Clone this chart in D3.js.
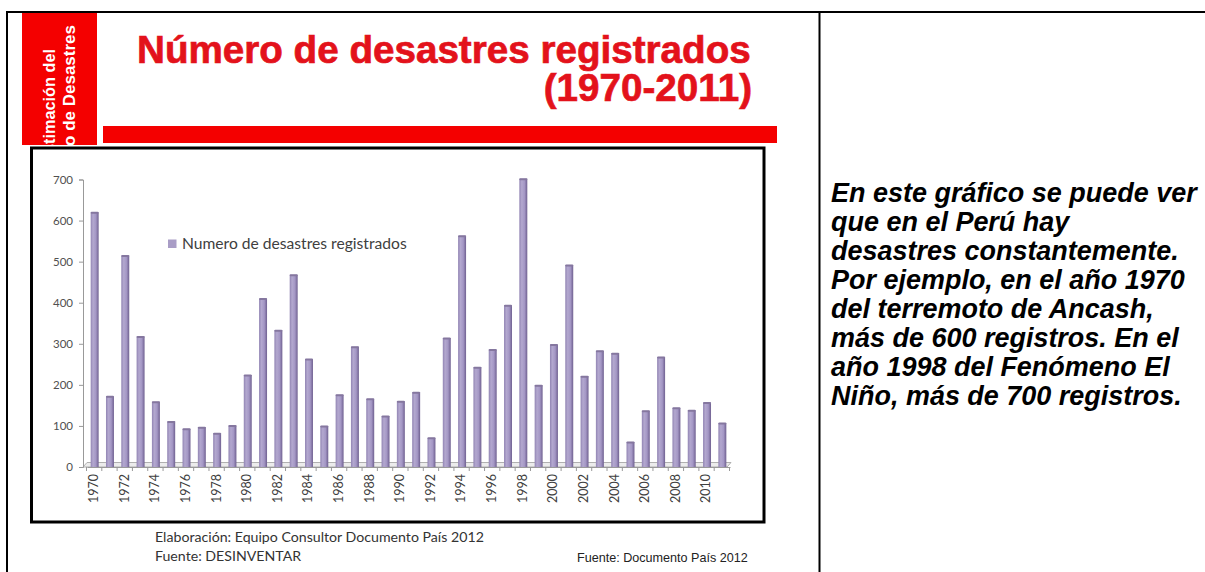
<!DOCTYPE html>
<html>
<head>
<meta charset="utf-8">
<script src="https://cdn.jsdelivr.net/npm/d3@7"></script>
<style>
  html, body { margin: 0; padding: 0; background: #fff; }
  svg { display: block; }
</style>
</head>
<body>
<svg id="chart" width="1205" height="572"></svg>
<script>
// Registered disasters in Peru per year, 1970–2011
const years = [1970,1971,1972,1973,1974,1975,1976,1977,1978,1979,
               1980,1981,1982,1983,1984,1985,1986,1987,1988,1989,
               1990,1991,1992,1993,1994,1995,1996,1997,1998,1999,
               2000,2001,2002,2003,2004,2005,2006,2007,2008,2009,
               2010,2011];
const disasters = [620,172,515,318,159,111,93,97,82,101,
                   224,410,333,468,263,100,176,293,166,124,
                   160,182,71,314,563,243,286,394,702,199,
                   298,492,221,283,277,61,137,268,144,138,
                   157,107];
const yTicks = [0,100,200,300,400,500,600,700];
const yearLabels = [1970,1972,1974,1976,1978,1980,1982,1984,1986,1988,1990,
                    1992,1994,1996,1998,2000,2002,2004,2006,2008,2010];

const titleLines = ["Número de desastres registrados", "(1970-2011)"];
const sideLines = ["Estimación del", "Riesgo de Desastres"];
const legendLabel = "Numero de desastres registrados";
const creditLines = ["Elaboración: Equipo Consultor Documento País 2012", "Fuente: DESINVENTAR"];
const sourceNote = "Fuente: Documento País 2012";
const noteLines = [
  "En este gráfico se puede ver",
  "que en el Perú hay",
  "desastres constantemente.",
  "Por ejemplo, en el año 1970",
  "del terremoto de Ancash,",
  "más de 600 registros. En el",
  "año 1998 del Fenómeno El",
  "Niño, más de 700 registros."
];

const svg = d3.select("#chart");
const RED = "#f40000";

// scale a text element's font so its width hits a target
function fitWidth(sel, target) {
  const node = sel.node();
  const fs = parseFloat(sel.attr("font-size"));
  const w = node.getComputedTextLength();
  const nfs = fs * target / w;
  sel.attr("font-size", nfs);
  return nfs;
}

// ---- page frame ----
const frame = svg.append("g").attr("stroke", "#000").attr("stroke-width", 2);
frame.append("line").attr("x1", 6).attr("x2", 1205).attr("y1", 12).attr("y2", 12);
frame.append("line").attr("x1", 7).attr("x2", 7).attr("y1", 12).attr("y2", 572);
frame.append("line").attr("x1", 819.5).attr("x2", 819.5).attr("y1", 12).attr("y2", 572);

// ---- red side block with vertical caption ----
const defs = svg.append("defs");
defs.append("clipPath").attr("id", "sideClip")
  .append("rect").attr("x", 22).attr("y", 13).attr("width", 75).attr("height", 132);
svg.append("rect").attr("x", 22).attr("y", 13).attr("width", 75).attr("height", 132).attr("fill", RED);
const side = svg.append("g").attr("clip-path", "url(#sideClip)");
const sidePos = [[54.5, 49], [75, 25]];
const sideSize = [16.3, 17];
sideLines.forEach((t, i) => {
  side.append("text")
    .attr("transform", `translate(${sidePos[i][0]},${sidePos[i][1]}) rotate(-90)`)
    .attr("text-anchor", "end")
    .attr("font-family", "'Liberation Sans', Arial, sans-serif")
    .attr("font-weight", "bold")
    .attr("font-size", sideSize[i])
    .attr("fill", "#fff")
    .text(t);
});

// ---- title ----
const t1 = svg.append("text")
  .attr("x", 137).attr("y", 62.5)
  .attr("font-family", "'Liberation Sans', Arial, sans-serif")
  .attr("font-weight", "bold").attr("font-size", 32)
  .attr("fill", "#e3121b").attr("stroke", "#e3121b").attr("stroke-width", 0.7)
  .text(titleLines[0]);
const tfs = fitWidth(t1, 614);
svg.append("text")
  .attr("x", 752).attr("y", 100.5).attr("text-anchor", "end")
  .attr("font-family", "'Liberation Sans', Arial, sans-serif")
  .attr("font-weight", "bold").attr("font-size", tfs)
  .attr("fill", "#e3121b").attr("stroke", "#e3121b").attr("stroke-width", 0.7)
  .text(titleLines[1]);
svg.append("rect").attr("x", 103).attr("y", 126).attr("width", 674).attr("height", 17).attr("fill", RED);

// ---- chart box ----
svg.append("rect").attr("x", 31.5).attr("y", 148).attr("width", 732.5).attr("height", 374)
  .attr("fill", "#fff").attr("stroke", "#000").attr("stroke-width", 3);

const x = d3.scaleBand().domain(years).range([87, 730]).paddingInner(0.48).paddingOuter(0.24);
const y = d3.scaleLinear().domain([0, 700]).range([467, 179.5]);

// bar shading
const grad = defs.append("linearGradient").attr("id", "barGrad")
  .attr("x1", "0%").attr("x2", "100%").attr("y1", "0%").attr("y2", "0%");
grad.append("stop").attr("offset", "0%").attr("stop-color", "#9184b3");
grad.append("stop").attr("offset", "30%").attr("stop-color", "#b3a8cf");
grad.append("stop").attr("offset", "65%").attr("stop-color", "#a497c5");
grad.append("stop").attr("offset", "100%").attr("stop-color", "#6f6090");

// floor of the 3D plot
const x0 = 83, x1 = 727;
svg.append("polygon")
  .attr("points", `${x0},${y(0)} ${x1},${y(0)} ${x1 + 4},${y(0) - 4.5} ${x0 + 4},${y(0) - 4.5}`)
  .attr("fill", "#ececec").attr("stroke", "#b0b0b0").attr("stroke-width", 1);

// y axis
const yAxis = d3.axisLeft(y).tickValues(yTicks).tickSize(4).tickPadding(6);
const gy = svg.append("g").attr("transform", `translate(83,0)`).call(yAxis);
gy.select(".domain").attr("stroke", "#999");
gy.selectAll(".tick line").attr("stroke", "#999");
gy.selectAll(".tick text")
  .attr("font-family", "Lato, 'Open Sans', sans-serif")
  .attr("font-size", 11.5).attr("fill", "#505050");

// x axis
const xAxis = d3.axisBottom(x).tickSize(0).tickFormat(d => yearLabels.includes(d) ? d : "");
const gx = svg.append("g").attr("transform", `translate(0,${y(0)})`).call(xAxis);
gx.select(".domain").attr("stroke", "#999");
gx.selectAll(".tick text")
  .attr("font-family", "Lato, 'Open Sans', sans-serif")
  .attr("font-size", 12.5).attr("fill", "#404040")
  .attr("text-anchor", "end")
  .attr("transform", "rotate(-90)")
  .attr("x", -7).attr("y", -1).attr("dy", "0.35em");
// tick marks between categories
const step = x.step();
svg.append("g").selectAll("line")
  .data(years.concat([null]))
  .join("line")
  .attr("x1", (d, i) => x.range()[0] + i * step - 0.5)
  .attr("x2", (d, i) => x.range()[0] + i * step - 0.5)
  .attr("y1", y(0)).attr("y2", y(0) + 4)
  .attr("stroke", "#999");

// bars
const barData = years.map((yr, i) => ({ yr, v: disasters[i] }));
svg.append("g").selectAll("rect")
  .data(barData)
  .join("rect")
  .attr("x", d => x(d.yr))
  .attr("y", d => y(d.v))
  .attr("width", x.bandwidth())
  .attr("height", d => y(0) - y(d.v))
  .attr("fill", "url(#barGrad)");
// bar caps
svg.append("g").selectAll("rect")
  .data(barData)
  .join("rect")
  .attr("x", d => x(d.yr))
  .attr("y", d => y(d.v) - 0.5)
  .attr("width", x.bandwidth())
  .attr("height", 2)
  .attr("rx", 1)
  .attr("fill", "#85779f");

// legend
svg.append("rect").attr("x", 168).attr("y", 239.5).attr("width", 8.5).attr("height", 8.5).attr("fill", "#a99dc6");
const lg = svg.append("text").attr("x", 182).attr("y", 248.5)
  .attr("font-family", "Lato, 'Open Sans', sans-serif")
  .attr("font-size", 15).attr("fill", "#404040")
  .text(legendLabel);
fitWidth(lg, 225);

// credits under the chart
const c1 = svg.append("text").attr("x", 155).attr("y", 542)
  .attr("font-family", "Lato, 'Open Sans', sans-serif")
  .attr("font-size", 14).attr("fill", "#333")
  .text(creditLines[0]);
const cfs = fitWidth(c1, 329);
svg.append("text").attr("x", 155).attr("y", 561)
  .attr("font-family", "Lato, 'Open Sans', sans-serif")
  .attr("font-size", cfs).attr("fill", "#333")
  .text(creditLines[1]);
const sn = svg.append("text").attr("x", 577).attr("y", 562)
  .attr("font-family", "'Liberation Sans', Arial, sans-serif")
  .attr("font-size", 12).attr("fill", "#222")
  .text(sourceNote);
fitWidth(sn, 171);

// commentary on the right
const n0 = svg.append("text").attr("x", 831).attr("y", 201.5)
  .attr("font-family", "'Liberation Sans', Arial, sans-serif")
  .attr("font-weight", "bold").attr("font-style", "italic")
  .attr("font-size", 22).attr("fill", "#000")
  .text(noteLines[0]);
const nfs = fitWidth(n0, 366);
noteLines.slice(1).forEach((t, i) => {
  svg.append("text").attr("x", 831).attr("y", 201.5 + 29.1 * (i + 1))
    .attr("font-family", "'Liberation Sans', Arial, sans-serif")
    .attr("font-weight", "bold").attr("font-style", "italic")
    .attr("font-size", nfs).attr("fill", "#000")
    .text(t);
});
</script>
</body>
</html>
